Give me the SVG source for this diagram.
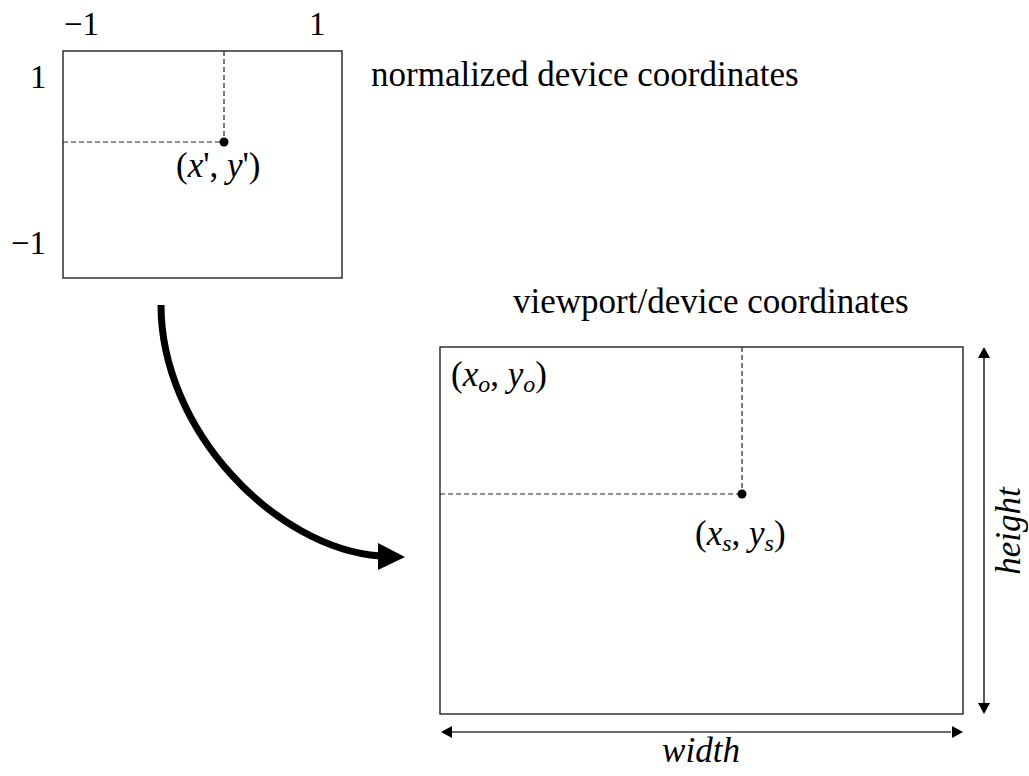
<svg xmlns="http://www.w3.org/2000/svg" width="1029" height="776" viewBox="0 0 1029 776">
<style>
text{font-family:"Liberation Serif","Times New Roman",serif;fill:#000}
.lbl{font-size:35px}
.num{font-size:33px}
.it{font-style:italic}
.sub{font-size:24px;font-style:italic}
.box{fill:#fff;stroke:#222;stroke-width:1.4}
.dash{fill:none;stroke:#222;stroke-width:1.2;stroke-dasharray:5 3}
.dim{fill:none;stroke:#000;stroke-width:1.3}
.dimg{fill:none;stroke:#6b6b6b;stroke-width:2}
</style>
<defs>
<marker id="ah" viewBox="0 0 10 10" refX="10" refY="5" markerWidth="10" markerHeight="10" markerUnits="userSpaceOnUse" orient="auto-start-reverse">
<path d="M0,0 L10,5 L0,10 z" fill="#000"/>
</marker>
</defs>
<g id="ndc">
<rect class="box" x="63" y="51" width="279" height="227"/>
<path class="dash" d="M224,51 V142 M63,142 H224"/>
<circle cx="224" cy="142" r="4.5" fill="#000"/>
<text class="num" x="64" y="35">−1</text>
<text class="num" x="309" y="35">1</text>
<text class="num" x="30" y="88">1</text>
<text class="num" x="11" y="254">−1</text>
<text class="lbl" x="176" y="177">(<tspan class="it">x</tspan>', <tspan class="it">y</tspan>')</text>
<text class="lbl" x="371" y="86">normalized device coordinates</text>
</g>
<g id="viewport">
<rect class="box" x="440" y="347" width="523" height="367"/>
<path class="dash" d="M742,347 V494 M440,494 H742"/>
<circle cx="742" cy="494" r="4.5" fill="#000"/>
<text class="lbl" x="513" y="313">viewport/device coordinates</text>
<text class="lbl" x="451" y="386">(<tspan class="it">x</tspan><tspan class="sub" dy="6">o</tspan><tspan dy="-6">, </tspan><tspan class="it">y</tspan><tspan class="sub" dy="6">o</tspan><tspan dy="-6">)</tspan></text>
<text class="lbl" x="695" y="545">(<tspan class="it">x</tspan><tspan class="sub" dy="6">s</tspan><tspan dy="-6">, </tspan><tspan class="it">y</tspan><tspan class="sub" dy="6">s</tspan><tspan dy="-6">)</tspan></text>
</g>
<g id="dimensions">
<line class="dimg" x1="452" y1="732" x2="951" y2="732"/>
<path d="M441,732 L452,726 L452,738 z M963,732 L952,726 L952,738 z" fill="#000"/>
<line class="dim" x1="984" y1="358" x2="984" y2="703"/>
<path d="M984,347 L978,358 L990,358 z M984,714 L978,703 L990,703 z" fill="#000"/>
<text class="lbl it" x="701" y="762" text-anchor="middle">width</text>
<text class="lbl it" transform="translate(1020,531) rotate(-90)" text-anchor="middle">height</text>
</g>
<g id="connectors">
<path d="M161,305 C161,430 275,548 380,556" fill="none" stroke="#000" stroke-width="7"/>
<path d="M405,557 L378,543 L378,570 z" fill="#000"/>
</g>
</svg>
